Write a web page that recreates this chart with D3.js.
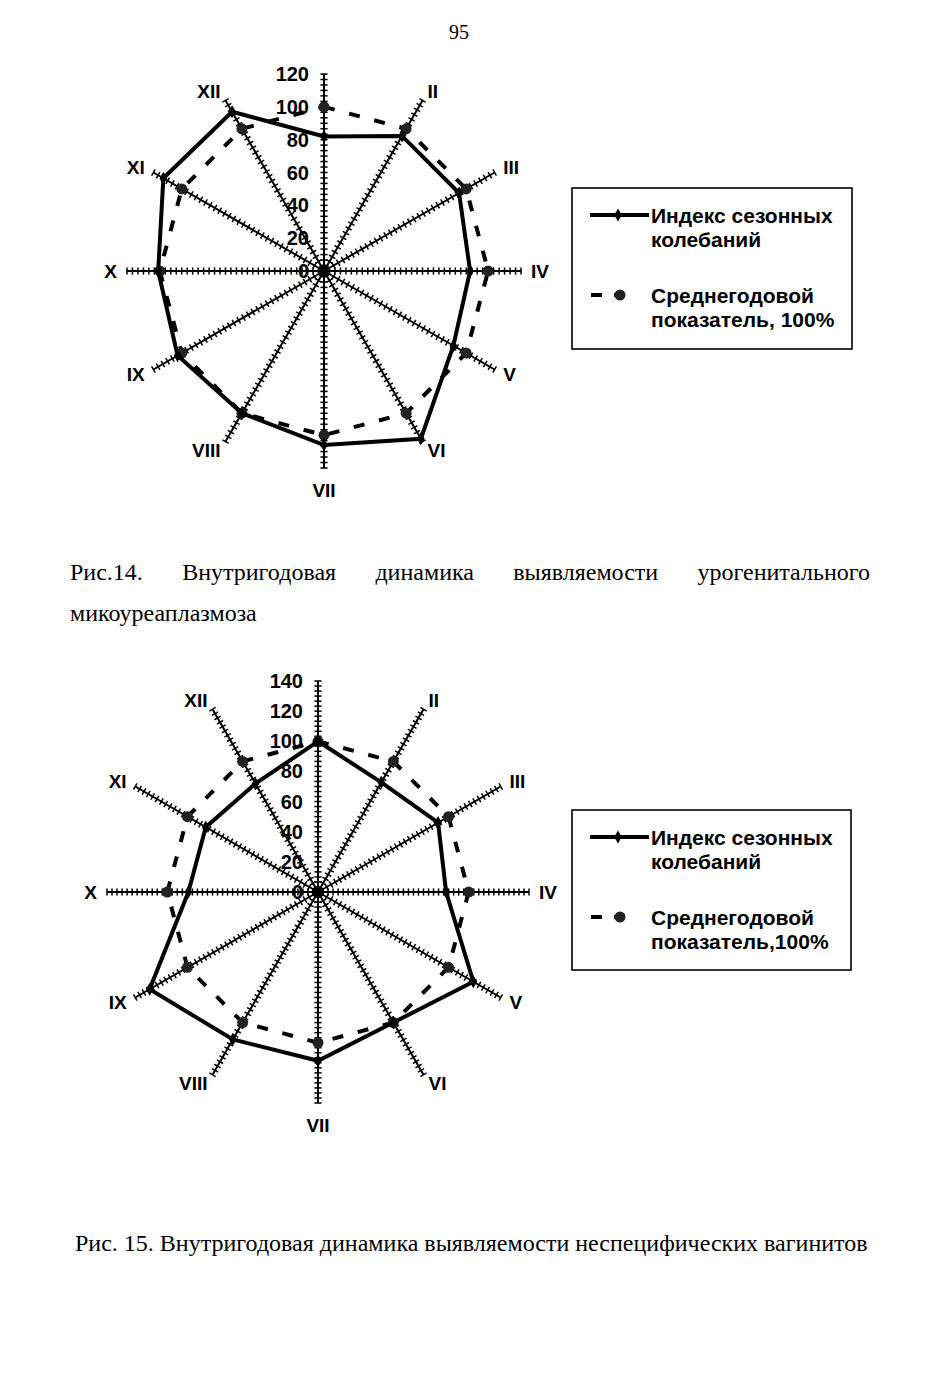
<!DOCTYPE html>
<html>
<head>
<meta charset="utf-8">
<script src="https://cdn.jsdelivr.net/npm/d3@7"></script>
<style>
  body { margin: 0; background: #fff; }
  svg text { fill: #000; }
  .chart-text { font-family: "Liberation Sans", Arial, sans-serif; font-weight: bold; }
  .doc-text { font-family: "Liberation Serif", "Times New Roman", serif; }
</style>
</head>
<body>
<svg id="page" width="938" height="1389"></svg>
<script>
// months on the radar axes (I at the top, clockwise)
const months = ["I", "II", "III", "IV", "V", "VI", "VII", "VIII", "IX", "X", "XI", "XII"];

// Рис.14 - urogenital mycoureaplasmosis
const fig14Index = [82, 95, 95, 89, 91, 118, 106, 100, 103, 101, 113, 112];
const fig14Mean = [100, 100, 100, 100, 100, 100, 100, 100, 100, 100, 100, 100];
const fig14Ticks = [0, 20, 40, 60, 80, 100, 120];

// Рис.15 - nonspecific vaginitis
const fig15Index = [100, 84, 92, 85, 119, 100, 112, 113, 129, 86, 86, 83];
const fig15Mean = [100, 100, 100, 100, 100, 100, 100, 100, 100, 100, 100, 100];
const fig15Ticks = [0, 20, 40, 60, 80, 100, 120, 140];

const legend14 = [["Индекс сезонных", "колебаний"], ["Среднегодовой", "показатель, 100%"]];
const legend15 = [["Индекс сезонных", "колебаний"], ["Среднегодовой", "показатель,100%"]];

const caption14 = ["Рис.14.", "Внутригодовая", "динамика", "выявляемости", "урогенитального"];
const caption14b = "микоуреаплазмоза";
const caption15 = "Рис. 15. Внутригодовая динамика выявляемости неспецифических вагинитов";
const pageNumber = "95";

const svg = d3.select("#page");

// page number
svg.append("text")
    .attr("class", "doc-text")
    .attr("x", 459).attr("y", 39)
    .attr("text-anchor", "middle")
    .style("font-size", "20px")
    .text(pageNumber);

function drawRadar(cfg) {
    const g = svg.append("g").attr("transform", `translate(${cfg.cx},${cfg.cy})`);
    const vmax = d3.max(cfg.ticks);
    const r = d3.scaleLinear().domain([0, vmax]).range([0, cfg.rMax]);
    const angle = d3.scaleLinear().domain([0, months.length]).range([0, 2 * Math.PI]);

    const minorStep = (cfg.ticks[1] - cfg.ticks[0]) / 6;
    const minor = d3.range(0, vmax + 0.001, minorStep);

    // spokes with their little tick marks
    months.forEach((m, i) => {
        const a = angle(i);
        const ux = Math.sin(a), uy = -Math.cos(a);
        g.append("line")
            .attr("x1", 0).attr("y1", 0)
            .attr("x2", ux * r(vmax)).attr("y2", uy * r(vmax))
            .attr("stroke", "#000").attr("stroke-width", 2);
        g.selectAll(null)
            .data(minor)
            .enter().append("line")
            .attr("x1", d => ux * r(d) - uy * 3.6)
            .attr("y1", d => uy * r(d) + ux * 3.6)
            .attr("x2", d => ux * r(d) + uy * 3.6)
            .attr("y2", d => uy * r(d) - ux * 3.6)
            .attr("stroke", "#000").attr("stroke-width", 1.5);

        if (i === 0) return; // top spoke carries the value labels instead
        const lr = r(vmax) + (Math.abs(ux) < 0.1 ? 22 : 10);
        g.append("text")
            .attr("class", "chart-text")
            .attr("x", ux * lr).attr("y", uy * lr)
            .attr("dy", "0.35em")
            .attr("text-anchor", ux > 0.1 ? "start" : ux < -0.1 ? "end" : "middle")
            .style("font-size", "19px")
            .text(m);
    });

    // value labels along the top spoke
    g.selectAll(null)
        .data(cfg.ticks)
        .enter().append("text")
        .attr("class", "chart-text")
        .attr("x", -15)
        .attr("y", d => -r(d))
        .attr("dy", "0.35em")
        .attr("text-anchor", "end")
        .style("font-size", "20px")
        .text(d => d);

    const radial = d3.lineRadial()
        .angle((d, i) => angle(i))
        .radius(d => r(d))
        .curve(d3.curveLinearClosed);

    // average level (dashed)
    g.append("path")
        .datum(cfg.mean)
        .attr("d", radial)
        .attr("fill", "none")
        .attr("stroke", "#000")
        .attr("stroke-width", 4)
        .attr("stroke-dasharray", "11,15");
    g.selectAll(null)
        .data(cfg.mean)
        .enter().append("circle")
        .attr("cx", (d, i) => Math.sin(angle(i)) * r(d))
        .attr("cy", (d, i) => -Math.cos(angle(i)) * r(d))
        .attr("r", 5.5)
        .attr("fill", "#222");

    // seasonal index (solid)
    g.append("path")
        .datum(cfg.index)
        .attr("d", radial)
        .attr("fill", "none")
        .attr("stroke", "#000")
        .attr("stroke-width", 4)
        .attr("stroke-linejoin", "miter");
    g.selectAll(null)
        .data(cfg.index)
        .enter().append("path")
        .attr("transform", (d, i) => `translate(${Math.sin(angle(i)) * r(d)},${-Math.cos(angle(i)) * r(d)})`)
        .attr("d", d3.symbol(d3.symbolDiamond, 50))
        .attr("fill", "#000");

    // legend
    const lg = svg.append("g").attr("transform", `translate(${cfg.legendX},${cfg.legendY})`);
    lg.append("rect")
        .attr("width", cfg.legendW).attr("height", cfg.legendH)
        .attr("fill", "#fff").attr("stroke", "#000").attr("stroke-width", 1.6);
    lg.append("line")
        .attr("x1", 18).attr("x2", 77).attr("y1", 27).attr("y2", 27)
        .attr("stroke", "#000").attr("stroke-width", 4);
    lg.append("path")
        .attr("transform", "translate(46,27)")
        .attr("d", d3.symbol(d3.symbolDiamond, 50));
    lg.append("line")
        .attr("x1", 19).attr("x2", 62).attr("y1", 107).attr("y2", 107)
        .attr("stroke", "#000").attr("stroke-width", 4)
        .attr("stroke-dasharray", "11,12");
    lg.append("circle")
        .attr("cx", 48).attr("cy", 107).attr("r", 5.5).attr("fill", "#222");
    cfg.legend.forEach((lines, k) => {
        lg.selectAll(null)
            .data(lines)
            .enter().append("text")
            .attr("class", "chart-text")
            .attr("x", 79)
            .attr("y", (d, j) => (k === 0 ? 28 : 108) + j * 24)
            .attr("dy", "0.35em")
            .style("font-size", "21px")
            .text(d => d);
    });
}

drawRadar({
    cx: 324, cy: 271, rMax: 197, ticks: fig14Ticks,
    index: fig14Index, mean: fig14Mean, legend: legend14,
    legendX: 572, legendY: 188, legendW: 280, legendH: 161
});
drawRadar({
    cx: 318, cy: 892, rMax: 211, ticks: fig15Ticks,
    index: fig15Index, mean: fig15Mean, legend: legend15,
    legendX: 572, legendY: 810, legendW: 279, legendH: 160
});

// caption 14: first line justified, second line left
const capLine = svg.append("g").attr("class", "doc-text").style("font-size", "24px");
const words = capLine.selectAll(null)
    .data(caption14)
    .enter().append("text")
    .attr("y", 580)
    .text(d => d);
const widths = [];
words.each(function () { widths.push(this.getComputedTextLength()); });
const gap = (870 - 70 - d3.sum(widths)) / (caption14.length - 1);
let xPos = 70;
words.attr("x", (d, i) => { const x = xPos; xPos += widths[i] + gap; return x; });
capLine.append("text").attr("x", 70).attr("y", 621).text(caption14b);

svg.append("text")
    .attr("class", "doc-text")
    .attr("x", 75).attr("y", 1251)
    .style("font-size", "24px")
    .text(caption15);
</script>
</body>
</html>
